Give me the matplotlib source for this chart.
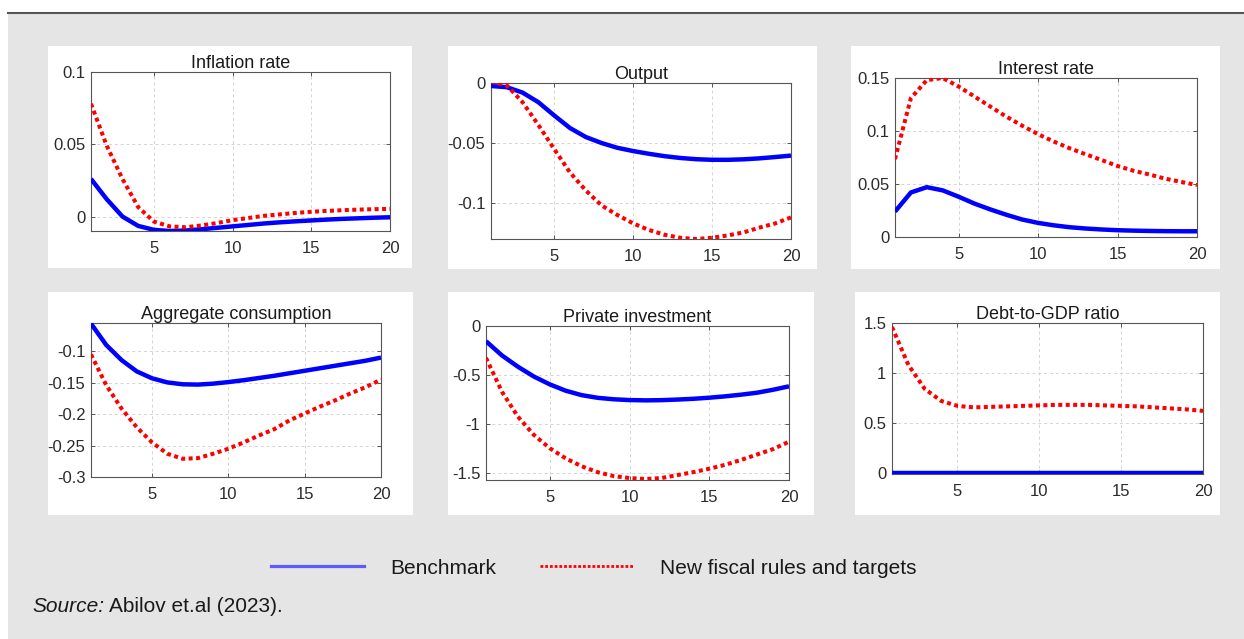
import numpy as np
import matplotlib
matplotlib.use('Agg')
import matplotlib.pyplot as plt
from matplotlib.patches import Rectangle
from matplotlib.lines import Line2D
from matplotlib.ticker import FuncFormatter

plt.rcParams['font.family'] = ['Liberation Sans', 'DejaVu Sans']

periods = np.arange(1, 21)

titles = ['Inflation rate', 'Output', 'Interest rate',
          'Aggregate consumption', 'Private investment', 'Debt-to-GDP ratio']

inflation_bench = [0.026, 0.012, 0.0, -0.0065, -0.0092, -0.0100, -0.0097, -0.0088, -0.0078, -0.0068,
                   -0.0058, -0.0048, -0.0040, -0.0033, -0.0027, -0.0021, -0.0016, -0.0012, -0.0008, -0.0005]
inflation_new = [0.078, 0.049, 0.026, 0.0065, -0.0035, -0.0068, -0.0074, -0.0062, -0.0045, -0.0025,
                 -0.0010, 0.0005, 0.0015, 0.0025, 0.0033, 0.0039, 0.0044, 0.0048, 0.0051, 0.0053]

output_bench = [-0.0025, -0.0035, -0.008, -0.016, -0.027, -0.0375, -0.045, -0.050, -0.0540, -0.0567,
                -0.0590, -0.0610, -0.0625, -0.0635, -0.0640, -0.0640, -0.0636, -0.0628, -0.0617, -0.0605]
output_new = [0.001, -0.002, -0.016, -0.035, -0.055, -0.0745, -0.0895, -0.102, -0.110, -0.117,
              -0.1225, -0.1265, -0.129, -0.130, -0.129, -0.127, -0.1245, -0.1205, -0.117, -0.112]

interest_bench = [0.024, 0.042, 0.047, 0.044, 0.038, 0.0315, 0.026, 0.021, 0.0165, 0.0133,
                  0.011, 0.0092, 0.008, 0.0071, 0.0064, 0.006, 0.0057, 0.0055, 0.0054, 0.0054]
interest_new = [0.0735, 0.131, 0.148, 0.150, 0.142, 0.1325, 0.123, 0.1136, 0.105, 0.097,
                0.090, 0.0836, 0.078, 0.0726, 0.067, 0.0625, 0.059, 0.055, 0.052, 0.049]

consumption_bench = [-0.056, -0.090, -0.114, -0.132, -0.143, -0.1495, -0.1525, -0.153, -0.1515, -0.149,
                     -0.146, -0.1425, -0.139, -0.135, -0.131, -0.127, -0.123, -0.119, -0.115, -0.110]
consumption_new = [-0.105, -0.154, -0.191, -0.221, -0.245, -0.263, -0.271, -0.270, -0.263, -0.255,
                   -0.245, -0.234, -0.224, -0.210, -0.199, -0.188, -0.178, -0.167, -0.157, -0.145]

investment_bench = [-0.155, -0.30, -0.415, -0.515, -0.595, -0.66, -0.705, -0.732, -0.747, -0.755,
                    -0.758, -0.756, -0.75, -0.742, -0.731, -0.717, -0.70, -0.68, -0.65, -0.615]
investment_new = [-0.325, -0.67, -0.924, -1.11, -1.246, -1.35, -1.43, -1.49, -1.53, -1.55,
                  -1.56, -1.55, -1.52, -1.49, -1.455, -1.415, -1.365, -1.31, -1.255, -1.18]

debt_bench = [0.0] * 20
debt_new = [1.46, 1.08, 0.84, 0.72, 0.67, 0.655, 0.66, 0.665, 0.67, 0.675,
            0.68, 0.68, 0.68, 0.675, 0.67, 0.665, 0.655, 0.645, 0.635, 0.62]

bench_series = [inflation_bench, output_bench, interest_bench, consumption_bench, investment_bench, debt_bench]
new_series = [inflation_new, output_new, interest_new, consumption_new, investment_new, debt_new]

ylims = [(-0.01, 0.1), (-0.13, 0.0), (0.0, 0.15), (-0.3, -0.055), (-1.57, 0.0), (-0.012, 1.5)]
yticks = [[0, 0.05, 0.1], [-0.1, -0.05, 0], [0, 0.05, 0.1, 0.15],
          [-0.3, -0.25, -0.2, -0.15, -0.1], [-1.5, -1, -0.5, 0], [0, 0.5, 1, 1.5]]
xticks = [5, 10, 15, 20]

legend_labels = ['Benchmark', 'New fiscal rules and targets']

W, H = 1244, 639
fig = plt.figure(figsize=(W / 100, H / 100), dpi=100, facecolor='white')


def px_rect(x0, y0, x1, y1):
    # pixel box (top-left origin) -> figure fraction [left, bottom, width, height]
    return [x0 / W, 1 - y1 / H, (x1 - x0) / W, (y1 - y0) / H]


# grey panel background and top rule
l, b, w, h = px_rect(8, 13, W, H)
fig.patches.append(Rectangle((l, b), w, h, transform=fig.transFigure, facecolor='#e5e5e5',
                             edgecolor='none', zorder=-10))
fig.add_artist(Line2D([8 / W, 1], [1 - 12.5 / H, 1 - 12.5 / H], transform=fig.transFigure,
                      color='#555555', lw=1.5))

white_boxes = [(48, 46, 412, 268), (448, 46, 817, 269), (851, 46, 1220, 269),
               (48, 292, 413, 515), (448, 292, 814, 515), (855, 292, 1220, 515)]
axes_boxes = [(91, 72, 390, 231), (491, 83, 791, 239), (895, 78, 1197, 237),
              (91, 323, 381, 477), (486, 326, 789, 480), (892, 323, 1203, 474)]

for wb in white_boxes:
    l, b, w, h = px_rect(*wb)
    fig.patches.append(Rectangle((l, b), w, h, transform=fig.transFigure, facecolor='white',
                                 edgecolor='none', zorder=-5))

fmt = FuncFormatter(lambda v, p: ('%g' % round(v, 4)).replace('\u2212', '-'))

for i in range(6):
    ax = fig.add_axes(px_rect(*axes_boxes[i]))
    ax.plot(periods, bench_series[i], color='#0000ff', lw=3.2, solid_capstyle='butt', zorder=3)
    ax.plot(periods, new_series[i], color='#ff0000', lw=2.9, dashes=(1, 0.85),
            dash_capstyle='butt', zorder=4)
    ax.set_xlim(1, 20)
    ax.set_ylim(*ylims[i])
    ax.set_xticks(xticks)
    ax.set_yticks(yticks[i])
    ax.yaxis.set_major_formatter(fmt)
    ax.grid(True, color='#d4d4d4', lw=0.7, dashes=(3, 3))
    ax.set_axisbelow(True)
    ax.tick_params(direction='in', length=3, width=0.7, colors='#555555', labelcolor='#2b2b2b',
                   labelsize=12, top=True, right=True)
    ax.tick_params(axis='y', pad=4)
    ax.tick_params(axis='x', pad=7.5)
    for s in ax.spines.values():
        s.set_color('#555555')
        s.set_linewidth(0.8)
    ax.set_title(titles[i], fontsize=13, color='#1a1a1a', pad=3)

handles = [Line2D([], [], color='#5b5bff', lw=2.3),
           Line2D([], [], color='#ff0000', lw=2, dashes=(1, 0.7))]
fig.legend(handles, legend_labels, loc='center', bbox_to_anchor=(593.5 / W, 1 - 568 / H), ncol=2,
           frameon=False, fontsize=15, handlelength=4.5, handletextpad=1.25, columnspacing=2.1,
           labelcolor='#1a1a1a')

fig.text(32 / W, 1 - 607 / H, 'Source:', style='italic', fontsize=15, color='#1a1a1a', va='center')
fig.text(109 / W, 1 - 607 / H, 'Abilov et.al (2023).', fontsize=15, color='#1a1a1a', va='center')

fig.savefig('out.png', dpi=100, facecolor=fig.get_facecolor())
